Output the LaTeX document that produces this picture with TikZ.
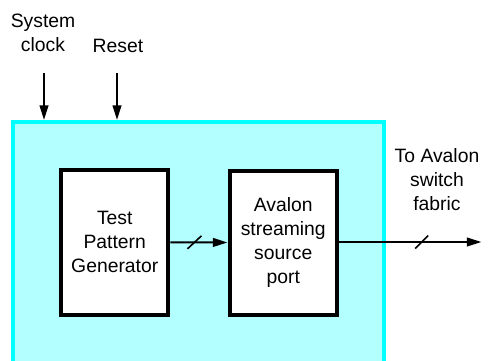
\documentclass[tikz,border=0pt]{standalone}
\usepackage{fontspec}
\setmainfont{Liberation Sans}
\usetikzlibrary{arrows.meta,calc}
\definecolor{outerfill}{HTML}{B3FFFF}
\definecolor{outerline}{HTML}{00FFFF}
\begin{document}
\begin{tikzpicture}[x=0.75pt,y=-0.75pt,
  lbl/.style={align=center,font=\fontsize{14.5}{18}\selectfont,inner sep=0pt},
  blockbox/.style={draw=black,line width=3pt,fill=white,inner sep=0pt,align=center,
    font=\fontsize{14.5}{18}\selectfont},
  arr/.style={line width=1.5pt,-{Triangle[length=11pt,width=6.5pt]}},
  slash/.style={line width=1.2pt}]
\clip (0,0) rectangle (488,360);
\node[draw=outerline,fill=outerfill,line width=3pt,minimum width=278.6pt,minimum height=187.5pt,inner sep=0pt] (outer) at (198.75,247) {};
\node[blockbox,minimum width=80.6pt,minimum height=108.4pt] (gen) at (114.75,242.25) {Test\\Pattern\\Generator};
\node[blockbox,minimum width=80.6pt,minimum height=108pt] (port) at (283.25,242.5) {Avalon\\streaming\\source\\port};
\node[lbl] (clklbl) at (43,32.5) {System\\clock};
\node[lbl] (rstlbl) at (118,46) {Reset};
\node[lbl] (fablbl) at (437,180) {To Avalon\\switch\\fabric};
\coordinate (clkstart) at (44,73);
\coordinate (rststart) at (117,73);
\coordinate (fabend) at (481.5,242);
\draw[arr] (clkstart) -- (clkstart |- outer.north);
\draw[arr] (rststart) -- (rststart |- outer.north);
\draw[arr] (gen.east) -- (port.west);
\draw[arr] (port.east |- fabend) -- (fabend);
\draw[slash] ($(gen.east)!0.42!(port.west)$) ++(-7,6.5) -- ++(14,-13);
\draw[slash] ($(port.east |- fabend)!0.58!(fabend)$) ++(-6.5,6.5) -- ++(13,-13);
\end{tikzpicture}
\end{document}
